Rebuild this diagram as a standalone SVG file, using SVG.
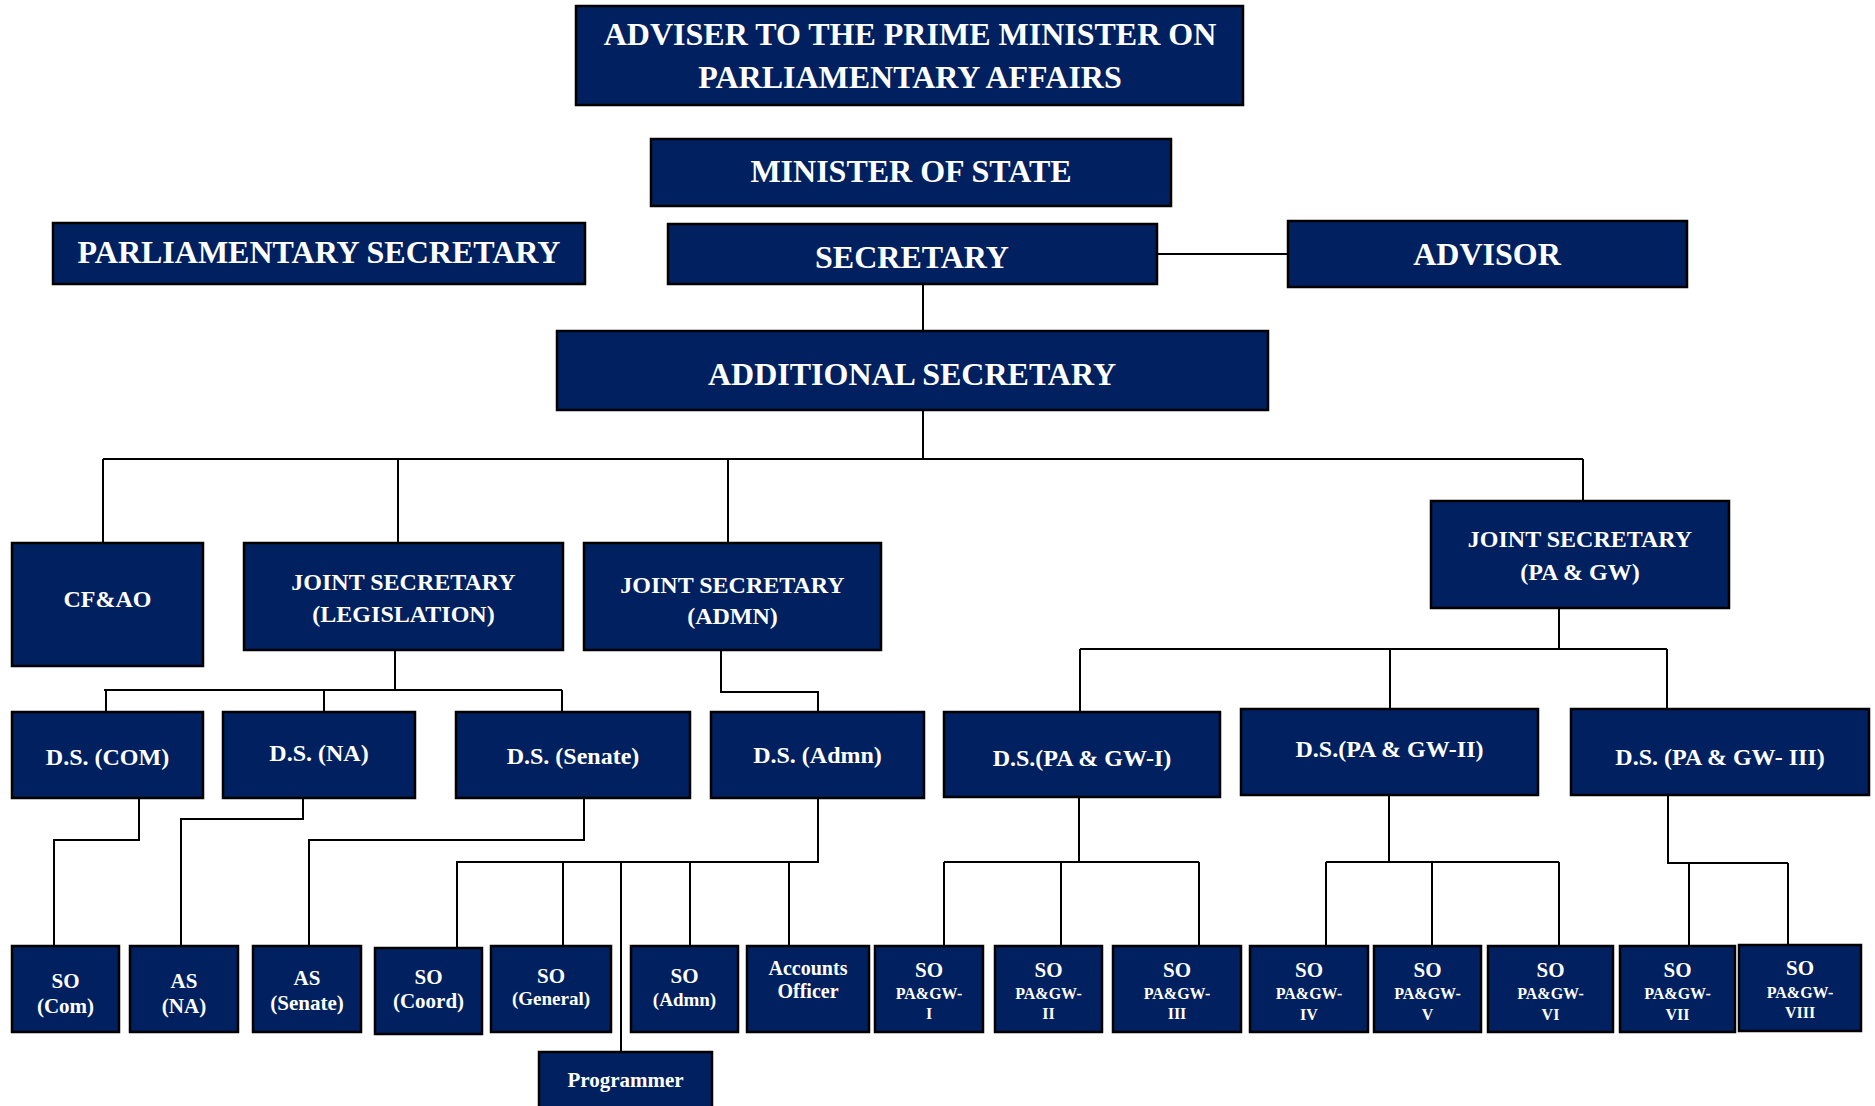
<svg xmlns="http://www.w3.org/2000/svg" width="1875" height="1106" viewBox="0 0 1875 1106">
<style>
.b{fill:#002060;stroke:#000;stroke-width:2.5}
.t{font-family:"Liberation Serif","Times New Roman",serif;font-weight:bold;fill:#fff;text-anchor:middle}
.f32{font-size:32px}.f24{font-size:24px}.f21{font-size:21px}.f19{font-size:19px}.f20{font-size:20px}.f16{font-size:16px}
.c{fill:none;stroke:#000;stroke-width:2}
</style>
<rect width="1875" height="1106" fill="#fff"/>
<g id="connectors">
<path class="c" d="M1157 254H1288M923 284V331M923 410V459M103 459H1583M103 459V543M398 459V543M728 459V543M1583 459V501"/>
<path class="c" d="M395 650V690M104 690H562M106 690V712M324 690V712M562 690V712M721 650V692H818V712"/>
<path class="c" d="M139 798V840H54V946M303 798V819H181V946M584 798V840H309V946"/>
<path class="c" d="M818 798V862H457V948M563 862V946M621 862V1052M690 862V946M789 862V946"/>
<path class="c" d="M1559 608V649M1080 649H1667M1080 649V712M1390 649V709M1667 649V709"/>
<path class="c" d="M1079 797V862M944 862H1199M944 862V946M1061 862V946M1199 862V946"/>
<path class="c" d="M1389 795V862M1326 862H1559M1326 862V946M1432 862V946M1559 862V946"/>
<path class="c" d="M1668 795V863H1788M1689 863V946M1788 863V945"/>
</g>
<g id="adviser"><rect class="b" x="576" y="6" width="667" height="99"/><text class="t f32" x="910" y="45">ADVISER TO THE PRIME MINISTER ON</text><text class="t f32" x="910" y="88">PARLIAMENTARY AFFAIRS</text></g>
<g id="minister"><rect class="b" x="651" y="139" width="520" height="67"/><text class="t f32" x="911" y="182">MINISTER OF STATE</text></g>
<g id="parl"><rect class="b" x="53" y="223" width="532" height="61"/><text class="t f32" x="319" y="263">PARLIAMENTARY SECRETARY</text></g>
<g id="secretary"><rect class="b" x="668" y="224" width="489" height="60"/><text class="t f32" x="912" y="268">SECRETARY</text></g>
<g id="advisor"><rect class="b" x="1288" y="221" width="399" height="66"/><text class="t f32" x="1487" y="265">ADVISOR</text></g>
<g id="addl"><rect class="b" x="557" y="331" width="711" height="79"/><text class="t f32" x="912" y="385">ADDITIONAL SECRETARY</text></g>
<g id="cfao"><rect class="b" x="12" y="543" width="191" height="123"/><text class="t f24" x="107.5" y="607">CF&amp;AO</text></g>
<g id="jsleg"><rect class="b" x="244" y="543" width="319" height="107"/><text class="t f24" x="403.5" y="590">JOINT SECRETARY</text><text class="t f24" x="403.5" y="622">(LEGISLATION)</text></g>
<g id="jsadmn"><rect class="b" x="584" y="543" width="297" height="107"/><text class="t f24" x="732.5" y="593">JOINT SECRETARY</text><text class="t f24" x="732.5" y="624">(ADMN)</text></g>
<g id="jspagw"><rect class="b" x="1431" y="501" width="298" height="107"/><text class="t f24" x="1580" y="547">JOINT SECRETARY</text><text class="t f24" x="1580" y="580">(PA &amp; GW)</text></g>
<g id="dscom"><rect class="b" x="12" y="712" width="191" height="86"/><text class="t f24" x="107.5" y="765">D.S. (COM)</text></g>
<g id="dsna"><rect class="b" x="223" y="712" width="192" height="86"/><text class="t f24" x="319" y="761">D.S. (NA)</text></g>
<g id="dssenate"><rect class="b" x="456" y="712" width="234" height="86"/><text class="t f24" x="573" y="764">D.S. (Senate)</text></g>
<g id="dsadmn"><rect class="b" x="711" y="712" width="213" height="86"/><text class="t f24" x="817.5" y="763">D.S. (Admn)</text></g>
<g id="dspagw1"><rect class="b" x="944" y="712" width="276" height="85"/><text class="t f24" x="1082" y="766">D.S.(PA &amp; GW-I)</text></g>
<g id="dspagw2"><rect class="b" x="1241" y="709" width="297" height="86"/><text class="t f24" x="1389.5" y="757">D.S.(PA &amp; GW-II)</text></g>
<g id="dspagw3"><rect class="b" x="1571" y="709" width="298" height="86"/><text class="t f24" x="1720" y="765">D.S. (PA &amp; GW- III)</text></g>
<g id="socom"><rect class="b" x="12" y="946" width="107" height="86"/><text class="t f21" x="65.5" y="988">SO</text><text class="t f21" x="65.5" y="1013">(Com)</text></g>
<g id="asna"><rect class="b" x="130" y="946" width="108" height="86"/><text class="t f21" x="184" y="988">AS</text><text class="t f21" x="184" y="1013">(NA)</text></g>
<g id="assenate"><rect class="b" x="253" y="946" width="108" height="86"/><text class="t f21" x="307" y="985">AS</text><text class="t f21" x="307" y="1010">(Senate)</text></g>
<g id="socoord"><rect class="b" x="375" y="948" width="107" height="86"/><text class="t f21" x="428.5" y="984">SO</text><text class="t f21" x="428.5" y="1008">(Coord)</text></g>
<g id="sogeneral"><rect class="b" x="491" y="946" width="120" height="86"/><text class="t f21" x="551" y="983">SO</text><text class="t f19" x="551" y="1005">(General)</text></g>
<g id="soadmn"><rect class="b" x="631" y="946" width="107" height="86"/><text class="t f21" x="684.5" y="983">SO</text><text class="t f19" x="684.5" y="1006">(Admn)</text></g>
<g id="accounts"><rect class="b" x="747" y="946" width="122" height="86"/><text class="t f20" x="808" y="975">Accounts</text><text class="t f20" x="808" y="998">Officer</text></g>
<g id="so1"><rect class="b" x="875" y="946" width="108" height="86"/><text class="t f21" x="929" y="977">SO</text><text class="t f16" x="929" y="999">PA&amp;GW-</text><text class="t f16" x="929" y="1019">I</text></g>
<g id="so2"><rect class="b" x="995" y="946" width="107" height="86"/><text class="t f21" x="1048.5" y="977">SO</text><text class="t f16" x="1048.5" y="999">PA&amp;GW-</text><text class="t f16" x="1048.5" y="1019">II</text></g>
<g id="so3"><rect class="b" x="1113" y="946" width="128" height="86"/><text class="t f21" x="1177" y="977">SO</text><text class="t f16" x="1177" y="999">PA&amp;GW-</text><text class="t f16" x="1177" y="1019">III</text></g>
<g id="so4"><rect class="b" x="1250" y="946" width="118" height="86"/><text class="t f21" x="1309" y="977">SO</text><text class="t f16" x="1309" y="999">PA&amp;GW-</text><text class="t f16" x="1309" y="1020">IV</text></g>
<g id="so5"><rect class="b" x="1374" y="946" width="107" height="86"/><text class="t f21" x="1427.5" y="977">SO</text><text class="t f16" x="1427.5" y="999">PA&amp;GW-</text><text class="t f16" x="1427.5" y="1020">V</text></g>
<g id="so6"><rect class="b" x="1488" y="946" width="125" height="86"/><text class="t f21" x="1550.5" y="977">SO</text><text class="t f16" x="1550.5" y="999">PA&amp;GW-</text><text class="t f16" x="1550.5" y="1020">VI</text></g>
<g id="so7"><rect class="b" x="1620" y="946" width="115" height="86"/><text class="t f21" x="1677.5" y="977">SO</text><text class="t f16" x="1677.5" y="999">PA&amp;GW-</text><text class="t f16" x="1677.5" y="1020">VII</text></g>
<g id="so8"><rect class="b" x="1739" y="945" width="122" height="86"/><text class="t f21" x="1800" y="975">SO</text><text class="t f16" x="1800" y="998">PA&amp;GW-</text><text class="t f16" x="1800" y="1018">VIII</text></g>
<g id="programmer"><rect class="b" x="539" y="1052" width="173" height="60"/><text class="t f21" x="625.5" y="1087">Programmer</text></g>
</svg>
